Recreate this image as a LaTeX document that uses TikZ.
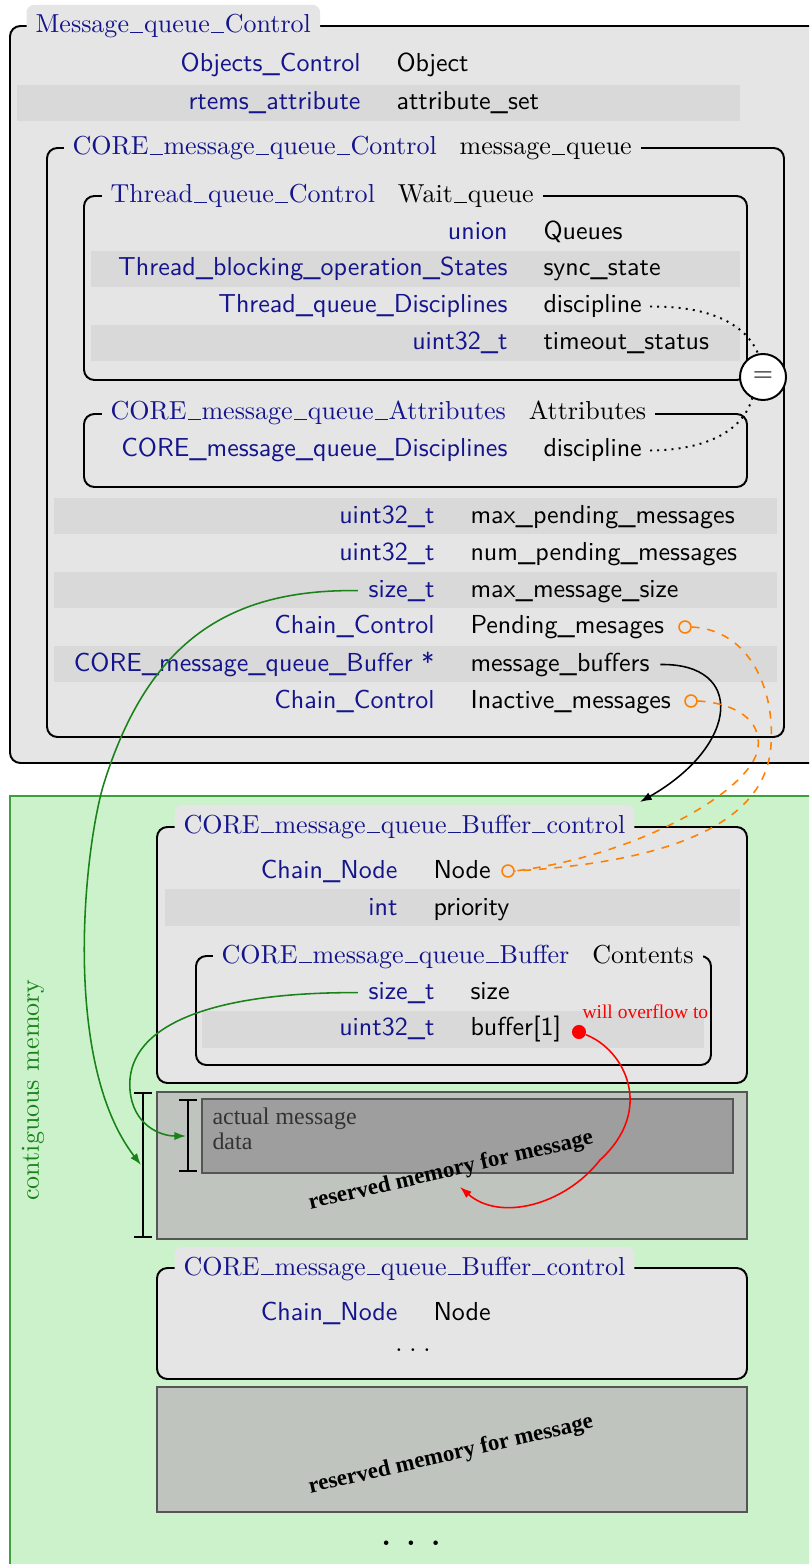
\documentclass[tikz,border=0pt]{standalone}
\usepackage{fontspec}
\newfontfamily\notefont{Liberation Serif}
\usetikzlibrary{arrows.meta}
\definecolor{tblue}{RGB}{20,20,140}
\definecolor{boxgray}{RGB}{229,229,229}
\definecolor{rowgray}{RGB}{217,217,217}
\definecolor{memgreen}{RGB}{204,242,204}
\definecolor{memline}{RGB}{60,160,60}
\definecolor{arrgreen}{RGB}{25,130,25}
\definecolor{resgray}{RGB}{191,196,191}
\definecolor{datagray}{RGB}{158,158,158}
\definecolor{edgegray}{RGB}{85,85,85}
\definecolor{ptrorange}{RGB}{255,128,0}
% one struct member: type right-aligned, name left-aligned
\newcommand\fieldrow[6]{%
  \node[typ, anchor=base east] (t#1) at (#2,#4) {#5};
  \node[fld, anchor=base west] (f#1) at (#3,#4) {#6};}
% struct title: type name followed by member name
\newcommand\ttltext[2]{\textcolor{tblue}{#1}\hspace{8.85pt}#2}
% rule underscore for the serif titles
\newcommand\tus{\leavevmode\kern.04em\vbox{\hrule width.5em}\kern.04em}
\begin{document}
\begin{tikzpicture}[x=0.3846pt, y=-0.3846pt,
  box/.style={draw=black, line width=0.75pt, rounded corners=4pt, fill=boxgray},
  rowshade/.style={fill=rowgray},
  typ/.style={font=\sffamily, text=tblue, inner sep=0pt},
  fld/.style={font=\sffamily, text=black, inner sep=0pt},
  ttl/.style={font=\rmfamily, fill=boxgray, inner xsep=3.5pt, inner ysep=1pt, anchor=base west},
  tab/.style={ttl, rounded corners=3pt, inner ysep=3.8pt},
  membox/.style={draw=edgegray, line width=0.6pt, fill=resgray},
  pin/.style={circle, draw=ptrorange, line width=0.6pt, fill=boxgray, minimum size=4.6pt, inner sep=0pt},
  ptr/.style={draw=ptrorange, dashed, line width=0.6pt},
  sizeref/.style={draw=arrgreen, line width=0.6pt, -{Latex[length=4.5pt,width=3.2pt]}},
  brace/.style={line width=0.75pt},
  resv/.style={rotate=13, font=\notefont\bfseries\fontsize{8.8}{10}\selectfont},
  datatxt/.style={anchor=base west, inner sep=0pt, font=\notefont\fontsize{9.2}{11}\selectfont, text=black!80},
]
\fill[white] (0,0) rectangle (809,1564);
\clip (0,0) rectangle (809,1564);

% ---------- Message_queue_Control ----------
\draw[box] (10,26) rectangle (840,763);
\node[tab, text=tblue] (mqc) at (26,33) {Message\tus queue\tus Control};
\fill[rowshade] (17,85) rectangle (740,121);
\fieldrow{obj}{361}{396}{72}{Objects\_Control}{Object}
\fieldrow{attr}{361}{396}{110}{rtems\_attribute}{attribute\_set}

% ---------- CORE_message_queue_Control ----------
\draw[box] (47,148) rectangle (784,737);
\node[ttl] (cmqc) at (63,155) {\ttltext{CORE\tus message\tus queue\tus Control}{message\tus queue}};

% Thread_queue_Control
\draw[box] (84,196) rectangle (747,380);
\node[ttl] (tqc) at (101,203) {\ttltext{Thread\tus queue\tus Control}{Wait\tus queue}};
\fill[rowshade] (91,251) rectangle (740,287);
\fill[rowshade] (91,325) rectangle (740,361);
\fieldrow{un}{508}{543}{240}{union}{Queues}
\fieldrow{sync}{508}{543}{276}{Thread\_blocking\_operation\_States}{sync\_state}
\fieldrow{discA}{508}{543}{313}{Thread\_queue\_Disciplines}{discipline}
\fieldrow{tmo}{508}{543}{350}{uint32\_t}{timeout\_status}

% CORE_message_queue_Attributes
\draw[box] (84,414) rectangle (747,487);
\node[ttl] (cmqa) at (101,420) {\ttltext{CORE\tus message\tus queue\tus Attributes}{Attributes}};
\fieldrow{discB}{508}{543}{457}{CORE\_message\_queue\_Disciplines}{discipline}

% remaining members
\fill[rowshade] (54,498) rectangle (777,534);
\fill[rowshade] (54,572) rectangle (777,608);
\fill[rowshade] (54,646) rectangle (777,682);
\fieldrow{maxp}{435}{470}{523}{uint32\_t}{max\_pending\_messages}
\fieldrow{nump}{435}{470}{560}{uint32\_t}{num\_pending\_messages}
\fieldrow{msz}{435}{470}{597}{size\_t}{max\_message\_size}
\fieldrow{pend}{435}{470}{633}{Chain\_Control}{Pending\_mesages}
\fieldrow{bufs}{435}{470}{671}{CORE\_message\_queue\_Buffer *}{message\_buffers}
\fieldrow{inact}{435}{470}{708}{Chain\_Control}{Inactive\_messages}
\node[pin] (pPend) at (685,627) {};
\node[pin] (pInact) at (691,701) {};

% ---------- contiguous memory ----------
\draw[draw=memline, fill=memgreen, line width=0.5pt] (10,796) rectangle (840,1600);
\node[rotate=90, font=\rmfamily, text=arrgreen] (contig) at (33,1090) {contiguous memory};

% first buffer control
\draw[box] (157,827) rectangle (747,1083);
\node[tab] (bc1) at (174,833) {\textcolor{tblue}{CORE\tus message\tus queue\tus Buffer\tus control}};
\fill[rowshade] (165,889) rectangle (740,926);
\fieldrow{node}{398}{433}{878}{Chain\_Node}{Node}
\fieldrow{prio}{398}{433}{915}{int}{priority}
\node[pin] (pNode) at (508,871) {};

% CORE_message_queue_Buffer
\draw[box] (196,956) rectangle (711,1065);
\node[ttl] (cmqb) at (212,963) {\ttltext{CORE\tus message\tus queue\tus Buffer}{Contents}};
\fill[rowshade] (202,1011) rectangle (704,1048);
\fieldrow{sz}{435}{470}{999}{size\_t}{size}
\fieldrow{buf}{435}{470}{1035}{uint32\_t}{buffer[1]}
\node[circle, fill=red, inner sep=0pt, minimum size=5.4pt] (ovdot) at (579,1032) {};
\node[anchor=base west, inner sep=0pt, font=\notefont\fontsize{7.5}{9}\selectfont, text=red] (ovlbl) at (582,1018) {will overflow to};

% reserved memory for the first message
\draw[membox] (157,1092) rectangle (747,1239);
\draw[membox, fill=datagray] (202,1099) rectangle (733,1173);
\node[datatxt] (data1) at (212,1124) {actual message};
\node[datatxt] (data2) at (212,1149) {data};
\node[resv] (res1) at (451,1171) {reserved memory for message};
\draw[brace] (134,1093) -- (152,1093) (143,1093) -- (143,1237) (134,1237) -- (152,1237);
\draw[brace] (179,1100) -- (197,1100) (188,1100) -- (188,1171) (179,1171) -- (197,1171);
\coordinate (bigmid) at (141,1165);
\coordinate (smallmid) at (186,1136);

% second buffer control
\draw[box] (157,1268) rectangle (747,1379);
\node[tab] (bc2) at (174,1275) {\textcolor{tblue}{CORE\tus message\tus queue\tus Buffer\tus control}};
\fieldrow{node2}{398}{433}{1320}{Chain\_Node}{Node}
\node[anchor=base, inner sep=0pt, font=\rmfamily] (more) at (413,1351) {.\hspace{2.6pt}.\hspace{2.6pt}.};
\draw[membox] (157,1387) rectangle (747,1512);
\node[resv] (res2) at (451,1455) {reserved memory for message};
\node[anchor=base, inner sep=0pt, font=\large\bfseries] (etc) at (411,1545) {.\hspace{5.8pt}.\hspace{5.8pt}.};

% ---------- connectors ----------
\coordinate (bcin) at (640,802);
\coordinate (ovtgt) at (460,1187);
\draw[line width=0.6pt, -{Latex[length=4.5pt,width=3.2pt]}]
  ([xshift=4pt]fbufs.east) .. controls (745,663) and (740,745) .. (bcin);
\draw[ptr] (pPend.east) .. controls (750,630) and (775,690) .. (771,745)
  .. controls (767,810) and (700,860) .. (pNode.east);
\draw[ptr] (pInact.east) .. controls (735,703) and (762,720) .. (758,748)
  .. controls (752,790) and (640,855) .. (pNode.east);
\draw[sizeref] ([xshift=-4pt]tmsz.west) .. controls (230,589) and (150,640) .. (105,780)
  .. controls (85,840) and (60,1060) .. (bigmid);
\draw[sizeref] ([xshift=-4pt]tsz.west) .. controls (200,992) and (125,1030) .. (130,1090)
  .. controls (133,1125) and (160,1136) .. (smallmid);
\draw[red, line width=0.6pt, -{Latex[length=4.5pt,width=3.2pt]}]
  (ovdot) .. controls (625,1050) and (655,1110) .. (600,1160)
  .. controls (565,1205) and (500,1222) .. (ovtgt);

% both discipline members refer to the same value
\node[circle, draw, fill=white, line width=0.75pt, minimum size=17.7pt, inner sep=0pt, font=\sffamily] (eq) at (763,377) {=};
\draw[dotted, line width=0.75pt] ([xshift=3pt]fdiscA.east) .. controls (720,306) and (748,330) .. (eq.102);
\draw[dotted, line width=0.75pt] ([xshift=3pt]fdiscB.east) .. controls (715,450) and (745,425) .. (eq.243);
\end{tikzpicture}
\end{document}
